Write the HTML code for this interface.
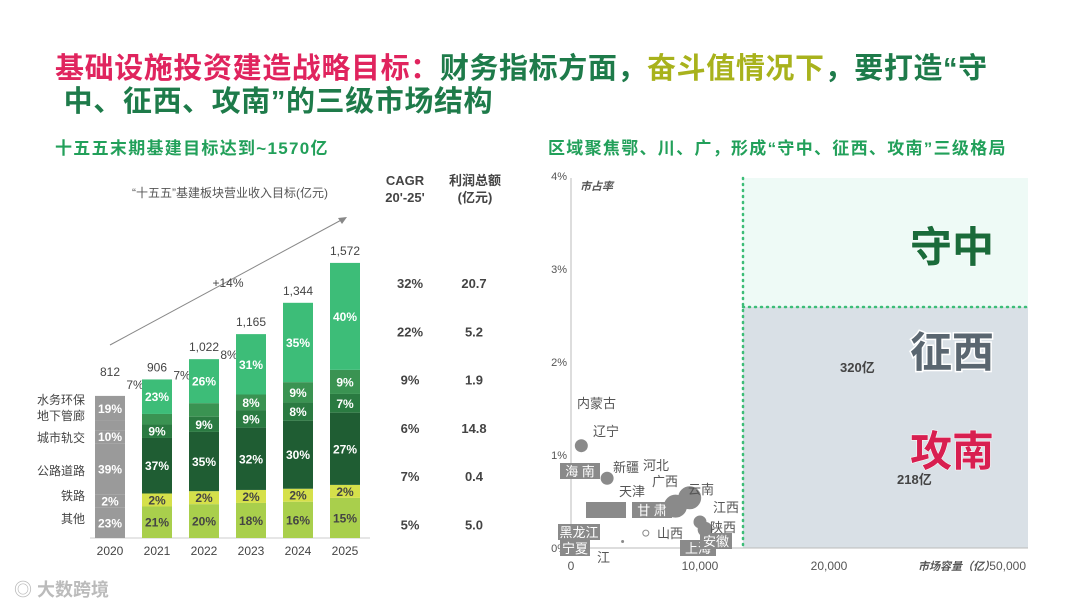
<!DOCTYPE html>
<html><head><meta charset="utf-8">
<style>
body{margin:0;width:1080px;height:608px;background:#fff;overflow:hidden;font-family:"Liberation Sans","Noto Sans CJK SC",sans-serif;position:relative}
.t{position:absolute;white-space:nowrap}
#title{left:55px;top:53px;font-size:29px;font-weight:bold;letter-spacing:0.6px;line-height:33px;color:#1e7b4a}
.sub{font-size:17px;font-weight:bold;color:#22a05a;top:134px;letter-spacing:1.3px}
</style></head><body>
<div id="title" class="t"><span style="color:#e0245e">基础设施投资建造战略目标：</span>财务指标方面，<span style="color:#a8b21c">奋斗值情况下</span>，要打造“守<br>&nbsp;中、征西、攻南”的三级市场结构</div>
<div class="t sub" style="left:55px">十五五末期基建目标达到~1570亿</div>
<div class="t sub" style="left:548px">区域聚焦鄂、川、广，形成“守中、征西、攻南”三级格局</div>
<div class="t" style="left:14px;top:576px;font-size:18px;color:#bbb;font-weight:bold">◎ 大数跨境</div>

<svg id="bar" width="540" height="608" style="position:absolute;left:0;top:0"></svg>
<svg id="sc" width="540" height="608" style="position:absolute;left:540px;top:0"></svg>

<script>
const years=["2020","2021","2022","2023","2024","2025"];
const totals=[812,906,1022,1165,1344,1572];
const segOther=[23,21,20,18,16,15];
const segRail=[2,2,2,2,2,2];
const segRoad=[39,37,35,32,30,27];
const segMetro=[10,9,9,9,8,7];
const segPipe=[7,7,8,8,9,9];
const segWater=[19,23,26,31,35,40];
const cagr=["32%","22%","9%","6%","7%","5%"];
const profit=["20.7","5.2","1.9","14.8","0.4","5.0"];
const segNames=["其他","铁路","公路道路","城市轨交","地下管廊","水务环保"];

const NS="http://www.w3.org/2000/svg";
function mk(svg,tag,attrs,txt){const e=document.createElementNS(NS,tag);for(const k in attrs)e.setAttribute(k,attrs[k]);if(txt!==undefined)e.textContent=txt;svg.appendChild(e);return e;}
const bar=document.getElementById('bar');
const base=538,yScale=v=>base-v*0.175,xC=i=>110+i*47,bw=30;
const colors=["#a9cf4c","#d5e04a","#1f5d33","#2a7a41","#3a9352","#3dbd78"];
const segs=[segOther,segRail,segRoad,segMetro,segPipe,segWater];
mk(bar,'line',{x1:90,y1:base,x2:370,y2:base,stroke:'#ccc'});
years.forEach((y,i)=>{
  const tot=totals[i];
  const fullH=base-yScale(tot);
  const railH=13;
  const sum=segs.reduce((a,b)=>a+b[i],0)-segRail[i];
  let cur=base;
  segs.forEach((s,k)=>{
    const h=k==1?railH:s[i]/sum*(fullH-railH);
    const y1=cur-h,y0=cur;
    const r=mk(bar,'rect',{x:xC(i)-bw/2,y:y1,width:bw,height:h,fill:i==0?'#9a9a9a':colors[k]});
    
    
    if(k!=4 || i>=3){
      const lbl=mk(bar,'text',{x:xC(i),y:(y0+y1)/2+4.5,'text-anchor':'middle','font-size':12,fill:(k<=1&&i>0)?'#444':'#fff','font-weight':'bold'},s[i]+'%');
      
      
    }
    cur=y1;
  });
  if(i<3){const l=mk(bar,'text',{x:xC(i)+bw/2+10,y:yScale(tot)+(i==0?-7:0),'text-anchor':'middle','font-size':12,fill:'#444'},segPipe[i]+'%');
    }
  const t=mk(bar,'text',{x:xC(i),y:yScale(tot)-(i==0?20:8),'text-anchor':'middle','font-size':12,fill:'#444'},tot.toLocaleString('en-US'));
  
  const yl=mk(bar,'text',{x:xC(i),y:555,'text-anchor':'middle','font-size':12,fill:'#444'},y);
  
  const cy=288+i*48.3;
  const c=mk(bar,'text',{x:410,y:cy,'text-anchor':'middle','font-size':13,fill:'#444','font-weight':'bold'},cagr[i]);
  
  const p=mk(bar,'text',{x:474,y:cy,'text-anchor':'middle','font-size':13,fill:'#444','font-weight':'bold'},profit[i]);
  
});
const legY=[523,500,475,442,420,404];
segNames.forEach((n,k)=>{const l=mk(bar,'text',{x:85,y:legY[k],'text-anchor':'end','font-size':12,fill:'#444'},n);
 });
mk(bar,'text',{x:230,y:197,'text-anchor':'middle','font-size':12,fill:'#555'},'“十五五”基建板块营业收入目标(亿元)');
mk(bar,'line',{x1:110,y1:345,x2:345,y2:218,stroke:'#888','stroke-width':1});
mk(bar,'polygon',{points:'347,217 338,218 342,224',fill:'#888'});
mk(bar,'text',{x:228,y:287,'text-anchor':'middle','font-size':12,fill:'#444'},'+14%');
[['CAGR',405,185],["20'-25'",405,202],['利润总额',475,185],['(亿元)',475,202]].forEach(a=>mk(bar,'text',{x:a[1],y:a[2],'text-anchor':'middle','font-size':13,fill:'#444','font-weight':'bold'},a[0]));

const sc=document.getElementById('sc');
const mktSize=[800,2800,6000,7000,8100,9200,10000,10400,5800,4000];
const share=[1.1,0.75,0.6,0.55,0.45,0.54,0.28,0.2,0.16,0.07];
const ptSize=[6,6,0,0,11,11,6,7,3,1];
const ptNames=["内蒙古","辽宁","新疆","河北","天津","广西","云南","江西","陕西","山西"];
const xAx=v=>31+v*0.0129, yAx=p=>548-p*93;
const L=31;
mk(sc,'rect',{x:203,y:178,width:285,height:129,fill:'#eefaf6'});
mk(sc,'rect',{x:203,y:307,width:285,height:241,fill:'#d9e0e6'});
mk(sc,'line',{x1:203,y1:178,x2:203,y2:548,stroke:'#3dbd78','stroke-width':2.5,'stroke-dasharray':'1 5','stroke-linecap':'round'});
mk(sc,'line',{x1:203,y1:307,x2:488,y2:307,stroke:'#3dbd78','stroke-width':2.5,'stroke-dasharray':'1 5','stroke-linecap':'round'});
mk(sc,'line',{x1:L,y1:178,x2:L,y2:548,stroke:'#bbb'});
mk(sc,'line',{x1:L,y1:548,x2:488,y2:548,stroke:'#bbb'});
["0%","1%","2%","3%","4%"].forEach((t,i)=>{const e=mk(sc,'text',{x:L-4,y:yAx(i)+4,'text-anchor':'end','font-size':11,fill:'#555'},t);
 });
[["0",0],["10,000",10000],["20,000",20000]].forEach(a=>{const e=mk(sc,'text',{x:xAx(a[1]),y:570,'text-anchor':'middle','font-size':12,fill:'#555'},a[0]);
 });
mk(sc,'text',{x:486,y:570,'text-anchor':'end','font-size':12,fill:'#555'},'50,000');
mk(sc,'text',{x:378,y:570,'text-anchor':'start','font-size':11,fill:'#555','font-style':'italic','font-weight':'bold'},'市场容量（亿）');
mk(sc,'text',{x:40,y:190,'font-size':11,fill:'#555','font-style':'italic','font-weight':'bold'},'市占率');
mktSize.forEach((m,i)=>{
  if(ptSize[i]>0){const c=mk(sc,'circle',{cx:xAx(m),cy:yAx(share[i]),r:ptSize[i],fill:i==8?'none':'#8a8a8a',stroke:'#8a8a8a'});
  }
});
[["内蒙古",37,408],["辽宁",53,436],["新疆",73,472],["河北",103,470],["广西",112,486],["天津",79,496],["云南",148,494],["江西",173,512],["陕西",170,532],["山西",117,538],["江",57,562]].forEach(a=>mk(sc,'text',{x:a[1],y:a[2],'font-size':13,fill:'#555'},a[0]));
[["海 南",20,463,40],["甘 肃",92,502,40],["黑龙江",18,524,42],["宁夏",20,540,30],["上海",140,540,36],["安徽",160,533,32],["",46,502,40]].forEach(a=>{
 mk(sc,'rect',{x:a[1],y:a[2],width:a[3],height:16,fill:'#8a8a8a'});
 mk(sc,'text',{x:a[1]+a[3]/2,y:a[2]+13,'text-anchor':'middle','font-size':13,fill:'#fff'},a[0]);});
mk(sc,'text',{x:300,y:372,'font-size':13,fill:'#444','font-weight':'bold'},'320亿');
mk(sc,'text',{x:357,y:484,'font-size':13,fill:'#444','font-weight':'bold'},'218亿');
mk(sc,'text',{x:370,y:262,'font-size':42,fill:'#1a6b3a','font-weight':'bold',stroke:'#fff','stroke-width':1,'paint-order':'stroke'},'守中');
mk(sc,'text',{x:370,y:367,'font-size':42,fill:'#5a6670','font-weight':'bold',stroke:'#fff','stroke-width':3,'paint-order':'stroke'},'征西');
mk(sc,'text',{x:370,y:466,'font-size':42,fill:'#d81f50','font-weight':'bold',stroke:'#fff','stroke-width':1,'paint-order':'stroke'},'攻南');
</script>
</body></html>
